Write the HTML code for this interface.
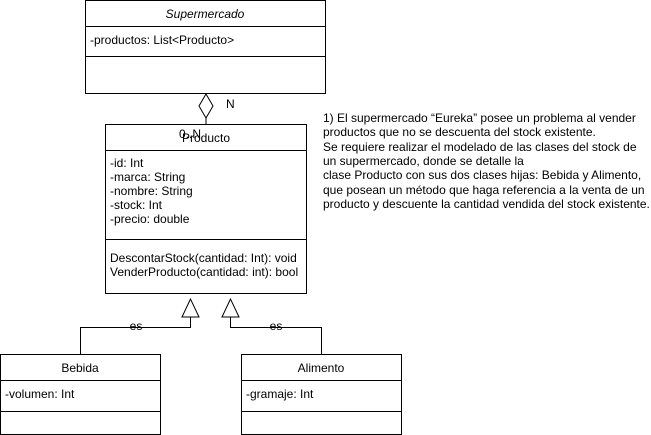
<!DOCTYPE html>
<html><head><meta charset="utf-8"><style>
html,body{margin:0;padding:0;background:#fff;}
svg{display:block;}
text{font-family:"Liberation Sans",Arial,sans-serif;font-size:12px;fill:#000;}
</style></head><body>
<svg width="651" height="435" viewBox="0 0 651 435" xmlns="http://www.w3.org/2000/svg">
<g fill="#fff" stroke="#000" stroke-width="1">
<rect x="85.5" y="0.5" width="240" height="93"/>
<line x1="85.5" y1="26.5" x2="325.5" y2="26.5"/>
<line x1="85.5" y1="56.5" x2="325.5" y2="56.5"/>
<rect x="105.5" y="124.5" width="201" height="169"/>
<line x1="105.5" y1="150.5" x2="306.5" y2="150.5"/>
<line x1="105.5" y1="239.5" x2="306.5" y2="239.5"/>
<rect x="0.5" y="354.5" width="160" height="80"/>
<line x1="0.5" y1="380.5" x2="160.5" y2="380.5"/>
<line x1="0.5" y1="411.5" x2="160.5" y2="411.5"/>
<rect x="241.5" y="354.5" width="160" height="80"/>
<line x1="241.5" y1="380.5" x2="401.5" y2="380.5"/>
<line x1="241.5" y1="411.5" x2="401.5" y2="411.5"/>
<polygon points="206,94 213,106 206,118 199,106"/>
<line x1="206" y1="118" x2="206" y2="124"/>
<polyline fill="none" points="190.5,317 190.5,327.5 80.5,327.5 80.5,354"/>
<polyline fill="none" points="230.5,317 230.5,327.5 321.5,327.5 321.5,354"/>
<polygon points="190.5,299 182,317 199,317"/>
<polygon points="230.5,299 222,317 239,317"/>
</g>
<text x="205" y="18" text-anchor="middle" font-style="italic">Supermercado</text>
<text x="90" y="44">-productos: List&lt;Producto&gt;</text>
<text x="226" y="108">N</text>
<text x="190" y="138" text-anchor="middle">0..N</text>
<text x="206" y="142" text-anchor="middle">Producto</text>
<text x="110" y="167">-id: Int</text>
<text x="110" y="181">-marca: String</text>
<text x="110" y="195">-nombre: String</text>
<text x="110" y="209">-stock: Int</text>
<text x="110" y="223">-precio: double</text>
<text x="110" y="262">DescontarStock(cantidad: Int): void</text>
<text x="110" y="276">VenderProducto(cantidad: int): bool</text>
<text x="136" y="330" text-anchor="middle">es</text>
<text x="276" y="330" text-anchor="middle">es</text>
<text x="80" y="372" text-anchor="middle">Bebida</text>
<text x="5" y="398">-volumen: Int</text>
<text x="321" y="372" text-anchor="middle">Alimento</text>
<text x="246" y="398">-gramaje: Int</text>
<g>
<text x="323" y="122">1) El supermercado “Eureka” posee un problema al vender</text>
<text x="323" y="136">productos que no se descuenta del stock existente.</text>
<text x="323" y="151">Se requiere realizar el modelado de las clases del stock de</text>
<text x="323" y="165">un supermercado, donde se detalle la</text>
<text x="323" y="179">clase Producto con sus dos clases hijas: Bebida y Alimento,</text>
<text x="323" y="194">que posean un método que haga referencia a la venta de un</text>
<text x="323" y="208">producto y descuente la cantidad vendida del stock existente.</text>
</g>
</svg>
</body></html>
